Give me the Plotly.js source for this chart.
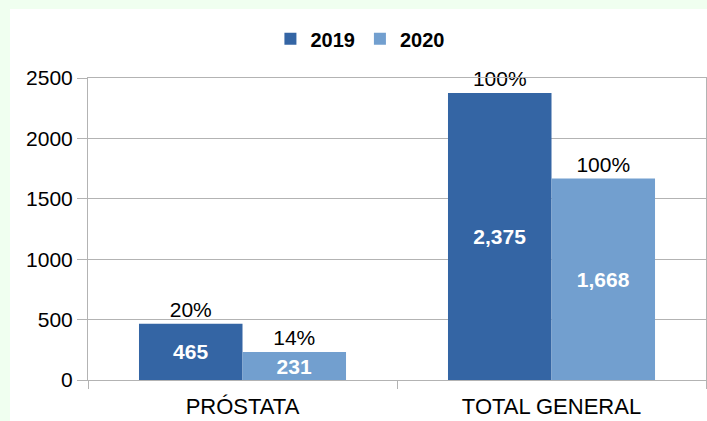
<!DOCTYPE html>
<html>
<head>
<meta charset="utf-8">
<script src="https://cdn.plot.ly/plotly-3.0.1.min.js"></script>
<style>
  html, body { margin: 0; padding: 0; background: #f0fff0; width: 707px; height: 421px; overflow: hidden; }
  #chart { position: absolute; left: 10px; top: 9px; width: 697px; height: 412px; background: #ffffff; }
</style>
</head>
<body>
<div id="chart"></div>
<script>
const categories = ["PRÓSTATA", "TOTAL GENERAL"];
const values2019 = [465, 2375];
const values2020 = [231, 1668];
const pct2019 = ["20%", "100%"];
const pct2020 = ["14%", "100%"];
const seriesNames = ["2019", "2020"];
const yTicks = [0, 500, 1000, 1500, 2000, 2500];

const FONT = "Liberation Sans, Arial, sans-serif";
const C2019 = "#3465a4";
const C2020 = "#729fcf";
const GRID = "#b3b3b3";

const valueTrace = (name, vals, color, group) => ({
  type: "bar",
  name: name,
  x: categories,
  y: vals,
  offsetgroup: group,
  marker: { color: color },
  texttemplate: "%{y:,}",
  textposition: "inside",
  insidetextanchor: "middle",
  constraintext: "none",
  textfont: { family: FONT, size: 21, color: "#ffffff", weight: "bold" },
  hoverinfo: "skip"
});

const pctTrace = (vals, pcts, group) => ({
  type: "bar",
  x: categories,
  y: vals,
  offsetgroup: group,
  showlegend: false,
  marker: { color: "rgba(0,0,0,0)" },
  text: pcts,
  texttemplate: "%{text}",
  textposition: "outside",
  constraintext: "none",
  cliponaxis: false,
  textfont: { family: FONT, size: 21, color: "#000000" },
  hoverinfo: "skip"
});

const data = [
  valueTrace(seriesNames[0], values2019, C2019, "a"),
  valueTrace(seriesNames[1], values2020, C2020, "b"),
  pctTrace(values2019, pct2019, "a"),
  pctTrace(values2020, pct2020, "b")
];

const layout = {
  width: 697,
  height: 412,
  margin: { l: 78, r: 1, t: 69, b: 41 },
  paper_bgcolor: "#ffffff",
  plot_bgcolor: "#ffffff",
  font: { family: FONT, size: 20, color: "#000000" },
  barmode: "group",
  bargap: 0.33,
  bargroupgap: 0,
  showlegend: true,
  legend: {
    orientation: "h",
    x: 0.44,
    xanchor: "center",
    y: 1.13,
    yanchor: "middle",
    font: { family: FONT, size: 20, color: "#000000", weight: "bold" },
    traceorder: "normal",
    itemclick: false
  },
  xaxis: {
    type: "category",
    showline: true,
    linecolor: GRID,
    linewidth: 1,
    mirror: true,
    ticks: "outside",
    tickson: "boundaries",
    ticklen: 8,
    tickcolor: GRID,
    ticklabelstandoff: 7,
    showgrid: false,
    tickfont: { family: FONT, size: 22, color: "#000000" }
  },
  yaxis: {
    range: [0, 2500],
    tickvals: yTicks,
    ticktext: yTicks.map(String),
    showline: true,
    linecolor: GRID,
    linewidth: 1,
    mirror: true,
    ticks: "outside",
    ticklen: 10,
    tickcolor: GRID,
    showgrid: true,
    gridcolor: GRID,
    zeroline: false,
    tickfont: { family: FONT, size: 21, color: "#000000" }
  }
};

Plotly.newPlot("chart", data, layout, { displayModeBar: false, staticPlot: true });
</script>
</body>
</html>
